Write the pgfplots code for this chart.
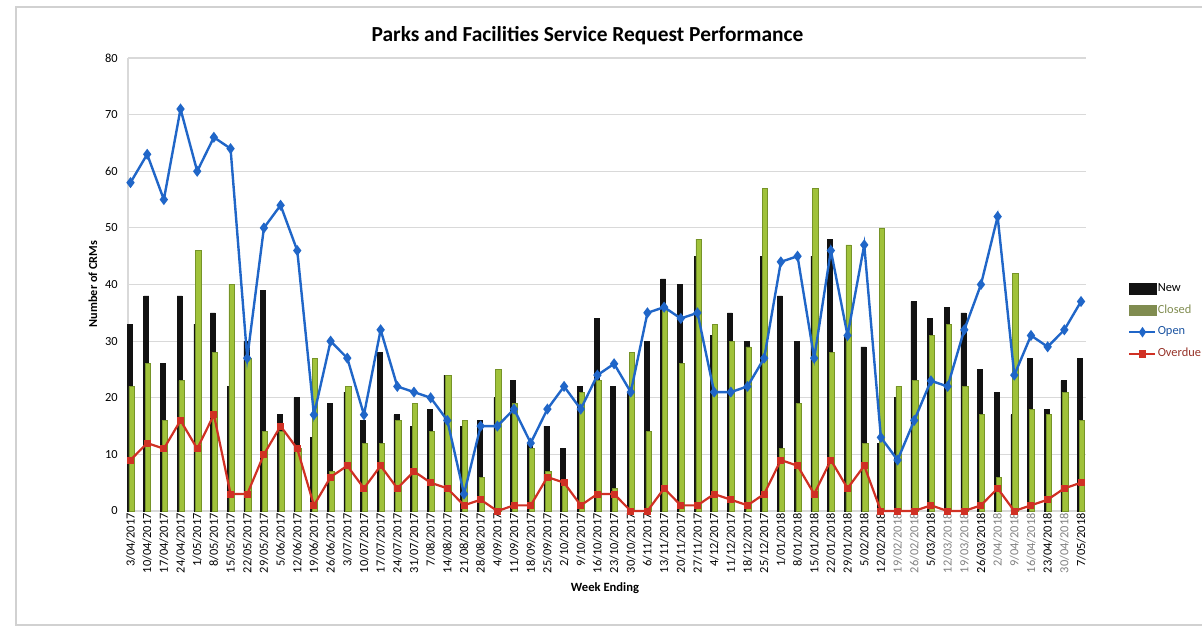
\documentclass[border=0pt]{standalone}
\usepackage{fontspec}
\setmainfont{Carlito}
\usepackage{pgfplots}
\usepackage{pgfplotstable}
\pgfplotsset{compat=1.18}

\definecolor{newblk}{RGB}{18,18,18}
\definecolor{closedgrn}{RGB}{160,194,58}
\definecolor{closededge}{RGB}{118,148,40}
\definecolor{closedtxt}{RGB}{128,140,80}
\definecolor{openblue}{RGB}{32,102,200}
\definecolor{overred}{RGB}{208,48,36}
\definecolor{overtxt}{RGB}{150,50,40}
\definecolor{gridgray}{RGB}{217,217,217}

% week, new, closed, open, overdue
\pgfplotstableread{
x new closed open overdue
0 33 22 58 9
1 38 26 63 12
2 26 16 55 11
3 38 23 71 16
4 33 46 60 11
5 35 28 66 17
6 22 40 64 3
7 30 27 27 3
8 39 14 50 10
9 17 14 54 15
10 20 11 46 11
11 13 27 17 1
12 19 7 30 6
13 21 22 27 8
14 16 12 17 4
15 28 12 32 8
16 17 16 22 4
17 15 19 21 7
18 18 14 20 5
19 24 24 16 4
20 15 16 3 1
21 16 6 15 2
22 20 25 15 0
23 23 19 18 1
24 12 11 12 1
25 15 7 18 6
26 11 5 22 5
27 22 21 18 1
28 34 23 24 3
29 22 4 26 3
30 21 28 21 0
31 30 14 35 0
32 41 36 36 4
33 40 26 34 1
34 45 48 35 1
35 31 33 21 3
36 35 30 21 2
37 30 29 22 1
38 45 57 27 3
39 38 11 44 9
40 30 19 45 8
41 45 57 27 3
42 48 28 46 9
43 31 47 31 4
44 29 12 47 8
45 12 50 13 0
46 20 22 9 0
47 37 23 16 0
48 34 31 23 1
49 36 33 22 0
50 35 22 32 0
51 25 17 40 1
52 21 6 52 4
53 17 42 24 0
54 27 18 31 1
55 18 17 29 2
56 23 21 32 4
57 27 16 37 5
}\crmdata

\newcommand{\fd}[1]{\textcolor{black!50}{#1}}

\begin{document}
\begin{tikzpicture}
\useasboundingbox (0,0) rectangle (601pt,314.5pt);
\draw[black!18, line width=0.8pt] (603pt,311pt) -- (8pt,311pt) -- (8pt,2pt) -- (603pt,2pt);

\begin{axis}[
  at={(64pt,59pt)}, anchor=south west,
  width=479pt, height=226.5pt, scale only axis,
  xmin=-0.15, xmax=57.3, ymin=0, ymax=80,
  axis x line*=bottom, axis y line*=left,
  axis line style={gridgray, line width=0.6pt},
  ymajorgrids, grid style={gridgray, line width=0.6pt},
  ytick={0,10,...,80},
  xtick={0,...,57},
  xticklabels={3/04/2017,10/04/2017,17/04/2017,24/04/2017,1/05/2017,8/05/2017,15/05/2017,22/05/2017,29/05/2017,5/06/2017,12/06/2017,19/06/2017,26/06/2017,3/07/2017,10/07/2017,17/07/2017,24/07/2017,31/07/2017,7/08/2017,14/08/2017,21/08/2017,28/08/2017,4/09/2017,11/09/2017,18/09/2017,25/09/2017,2/10/2017,9/10/2017,16/10/2017,23/10/2017,30/10/2017,6/11/2017,13/11/2017,20/11/2017,27/11/2017,4/12/2017,11/12/2017,18/12/2017,25/12/2017,1/01/2018,8/01/2018,15/01/2018,22/01/2018,29/01/2018,5/02/2018,12/02/2018,\fd{19/02/2018},\fd{26/02/2018},5/03/2018,\fd{12/03/2018},\fd{19/03/2018},26/03/2018,\fd{2/04/2018},\fd{9/04/2018},\fd{16/04/2018},23/04/2018,\fd{30/04/2018},7/05/2018},
  major tick length=0pt,
  xticklabel style={rotate=90, anchor=east, font=\fontsize{6.2}{7}\selectfont, inner sep=1pt},
  yticklabel style={font=\fontsize{6.2}{7}\selectfont, inner sep=1pt, xshift=-4pt},
  /pgf/number format/assume math mode=true,
  clip=false,
  legend style={at={(1.044,0.508)}, anchor=north west, draw=none, fill=none,
    inner sep=0pt, row sep=3.2pt, font=\fontsize{6.2}{7}\selectfont,
    /tikz/every even column/.append style={column sep=0pt},
    nodes={inner xsep=0.5pt, inner ysep=1pt}},
  legend cell align=left,
]
\addplot[ybar, bar width=2.5pt, bar shift=-0.45pt, fill=newblk, draw=newblk, line width=0.3pt,
  legend image code/.code={\fill[newblk] (0pt,-2.6pt) rectangle (13.5pt,2.6pt);}]
  table[x=x, y=new]{\crmdata};
\addlegendentry{New}
\addplot[ybar, bar width=2.6pt, bar shift=0.5pt, fill=closedgrn, draw=closededge, line width=0.3pt,
  legend image code/.code={\fill[closedtxt] (0pt,-2.6pt) rectangle (13.5pt,2.6pt);}]
  table[x=x, y=closed]{\crmdata};
\addlegendentry{\textcolor{closedtxt}{Closed}}
\addplot[openblue, line width=1.2pt, mark=diamond*, mark size=1.8pt,
  legend image code/.code={\draw[openblue, line width=0.9pt] (0pt,0pt) -- (13pt,0pt);
    \fill[openblue] (6.5pt,0pt) +(0,1.6pt) -- +(1.1pt,0) -- +(0,-1.6pt) -- +(-1.1pt,0) -- cycle;}]
  table[x=x, y=open]{\crmdata};
\addlegendentry{\textcolor{openblue!80!black}{Open}}
\addplot[overred, line width=1.1pt, mark=square*, mark size=1.2pt,
  legend image code/.code={\draw[overred, line width=0.9pt] (0pt,0pt) -- (13pt,0pt);
    \fill[overred] (5.2pt,-1.3pt) rectangle (7.8pt,1.3pt);}]
  table[x=x, y=overdue]{\crmdata};
\addlegendentry{\textcolor{overtxt}{Overdue}}
\end{axis}

\node[font=\bfseries\fontsize{10.7}{12}\selectfont] at (293.75pt,296.5pt) {Parks and Facilities Service Request Performance};
\node[font=\bfseries\fontsize{6.1}{7}\selectfont, rotate=90] at (46.5pt,172.5pt) {Number of CRMs};
\node[font=\bfseries\fontsize{6.3}{7}\selectfont] at (302.5pt,20.5pt) {Week Ending};
\end{tikzpicture}
\end{document}
